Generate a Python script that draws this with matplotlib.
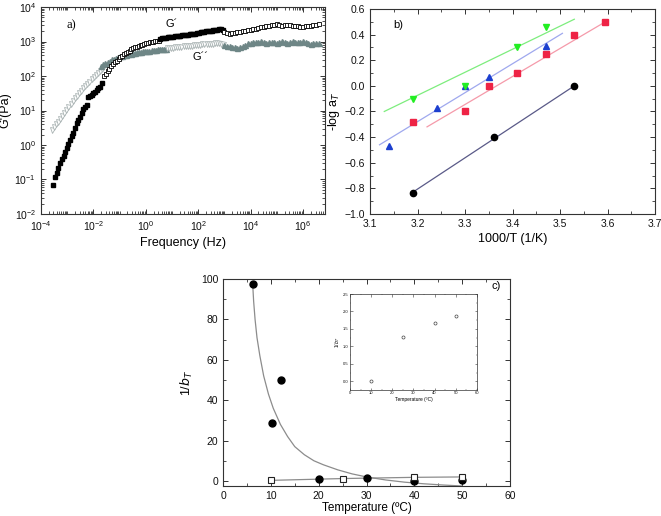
"""Three-panel rheology figure: G'/G'' master curve, shift factors, 1/bT vs temperature."""

import numpy as np
import matplotlib
matplotlib.use("Agg")
import matplotlib.pyplot as plt
from matplotlib.ticker import LogLocator, MultipleLocator, NullFormatter

plt.rcParams["font.family"] = ["Liberation Sans", "DejaVu Sans"]

# ── Panel a: master curve (log10 values) ────────────────────────────────────
GP1_LOGF = [-3.53, -3.47, -3.40, -3.34, -3.27, -3.21, -3.14, -3.08, -3.02, -2.96,
            -2.89, -2.83, -2.76, -2.70, -2.64, -2.58, -2.51, -2.45, -2.38, -2.32,
            -2.25, -2.19, -2.13, -2.06, -2.00, -1.93, -1.87, -1.81, -1.75, -1.68]
GP1_LOGG = [-1.16, -0.92, -0.82, -0.68, -0.53, -0.42, -0.32, -0.20, -0.10, 0.02,
            0.14, 0.25, 0.34, 0.50, 0.65, 0.73, 0.82, 0.92, 1.03, 1.10,
            1.16, 1.38, 1.42, 1.45, 1.50, 1.55, 1.59, 1.64, 1.69, 1.79]

GP2_LOGF = [-1.60, -1.53, -1.46, -1.39, -1.32, -1.25, -1.18, -1.11, -1.04, -0.97,
            -0.90, -0.83, -0.76, -0.69, -0.62, -0.55, -0.48, -0.41, -0.34, -0.27,
            -0.20, -0.13, -0.06, 0.01, 0.08, 0.15, 0.22, 0.29, 0.36, 0.43, 0.50]
GP2_LOGG = [2.00, 2.07, 2.14, 2.21, 2.28, 2.34, 2.40, 2.45, 2.50, 2.55,
            2.59, 2.63, 2.67, 2.71, 2.74, 2.77, 2.80, 2.83, 2.85, 2.87,
            2.89, 2.91, 2.93, 2.95, 2.96, 2.98, 2.99, 3.00, 3.01, 3.02, 3.03]

GP3_LOGF = [0.55, 0.62, 0.69, 0.76, 0.83, 0.90, 0.97, 1.04, 1.11, 1.18,
            1.25, 1.32, 1.39, 1.46, 1.53, 1.60, 1.67, 1.74, 1.81, 1.88,
            1.95, 2.02, 2.09, 2.16, 2.23, 2.30, 2.37, 2.44, 2.51, 2.58,
            2.65, 2.72, 2.79, 2.86, 2.93]
GP3_LOGG = [3.08, 3.09, 3.10, 3.11, 3.12, 3.12, 3.13, 3.14, 3.15, 3.16,
            3.16, 3.17, 3.18, 3.19, 3.20, 3.20, 3.21, 3.22, 3.22, 3.23,
            3.25, 3.26, 3.27, 3.27, 3.28, 3.30, 3.31, 3.31, 3.32, 3.33,
            3.34, 3.34, 3.35, 3.35, 3.33]

HF_LOGF = [3.0, 3.1, 3.2, 3.3, 3.4, 3.5, 3.6, 3.7, 3.8, 3.9,
           4.0, 4.1, 4.2, 4.3, 4.4, 4.5, 4.6, 4.7, 4.8, 4.9,
           5.0, 5.1, 5.2, 5.3, 5.4, 5.5, 5.6, 5.7, 5.8, 5.9,
           6.0, 6.1, 6.2, 6.3, 6.4, 6.5, 6.6]
GP4_LOGG = [3.28, 3.24, 3.23, 3.24, 3.26, 3.27, 3.29, 3.30, 3.31, 3.33,
            3.34, 3.35, 3.37, 3.39, 3.41, 3.42, 3.44, 3.45, 3.47, 3.49,
            3.50, 3.48, 3.46, 3.47, 3.48, 3.47, 3.46, 3.45, 3.44, 3.43,
            3.43, 3.44, 3.45, 3.46, 3.47, 3.49, 3.50]
GPP4_LOGG = [2.90, 2.88, 2.86, 2.84, 2.83, 2.82, 2.84, 2.87, 2.90, 2.95,
             2.97, 2.99, 3.00, 2.98, 3.01, 2.98, 2.97, 2.99, 3.00, 2.98,
             2.97, 3.00, 3.02, 3.00, 2.97, 2.99, 3.01, 2.99, 2.98, 3.00,
             3.01, 2.98, 2.96, 2.94, 2.95, 2.97, 2.96]

GPP1_LOGF = [-3.59, -3.51, -3.43, -3.35, -3.27, -3.19, -3.11, -3.03, -2.95, -2.87,
             -2.79, -2.71, -2.63, -2.55, -2.47, -2.39, -2.31, -2.23, -2.15, -2.07,
             -1.99, -1.91, -1.83, -1.75, -1.68]
GPP1_LOGG = [0.43, 0.51, 0.60, 0.68, 0.76, 0.84, 0.93, 1.01, 1.10, 1.19,
             1.27, 1.35, 1.43, 1.50, 1.58, 1.64, 1.71, 1.77, 1.84, 1.90,
             1.96, 2.02, 2.08, 2.14, 2.19]

GPP2_LOGF = [-1.70, -1.62, -1.54, -1.46, -1.38, -1.30, -1.22, -1.14, -1.06, -0.98,
             -0.90, -0.82, -0.74, -0.66, -0.58, -0.50, -0.42, -0.34, -0.26, -0.18,
             -0.10, -0.02, 0.06, 0.14, 0.22, 0.30, 0.38, 0.46, 0.54, 0.62, 0.70, 0.78]
GPP2_LOGG = [2.30, 2.34, 2.38, 2.42, 2.45, 2.48, 2.50, 2.53, 2.55, 2.57,
             2.59, 2.61, 2.62, 2.64, 2.65, 2.67, 2.68, 2.69, 2.70, 2.71,
             2.72, 2.73, 2.74, 2.74, 2.75, 2.76, 2.76, 2.77, 2.77, 2.78, 2.78, 2.79]

GPP3_LOGF = [0.80, 0.88, 0.96, 1.04, 1.12, 1.20, 1.28, 1.36, 1.44, 1.52,
             1.60, 1.68, 1.76, 1.84, 1.92, 2.00, 2.08, 2.16, 2.24, 2.32,
             2.40, 2.48, 2.56, 2.64, 2.72, 2.80, 2.88, 2.96]
GPP3_LOGG = [2.80, 2.81, 2.82, 2.82, 2.83, 2.84, 2.84, 2.85, 2.86, 2.86,
             2.87, 2.88, 2.88, 2.89, 2.90, 2.90, 2.91, 2.92, 2.92, 2.93,
             2.93, 2.94, 2.94, 2.95, 2.95, 2.95, 2.94, 2.93]

# ── Panel b: shift factors ──────────────────────────────────────────────────
GREEN_X = [3.19, 3.30, 3.41, 3.47]
GREEN_Y = [-0.10, 0.0, 0.30, 0.46]
GREEN_FIT_X = [3.13, 3.53]
GREEN_FIT_Y = [-0.20, 0.52]

BLUE_X = [3.14, 3.24, 3.30, 3.35, 3.47]
BLUE_Y = [-0.47, -0.17, 0.0, 0.07, 0.31]
BLUE_FIT_X = [3.12, 3.505]
BLUE_FIT_Y = [-0.46, 0.41]

RED_X = [3.19, 3.30, 3.35, 3.41, 3.47, 3.53, 3.595]
RED_Y = [-0.28, -0.20, 0.0, 0.10, 0.25, 0.40, 0.50]
RED_FIT_X = [3.22, 3.60]
RED_FIT_Y = [-0.32, 0.51]

BLACK_X = [3.19, 3.36, 3.53]
BLACK_Y = [-0.84, -0.40, 0.0]
BLACK_FIT_X = [3.19, 3.53]
BLACK_FIT_Y = [-0.83, 0.0]

# ── Panel c: 1/bT vs temperature ────────────────────────────────────────────
FILLED_T = [6.2, 10.2, 12.2, 20, 30.2, 40, 50]
FILLED_V = [97.5, 28.6, 50.2, 1.0, 1.6, 0.2, 0.3]
OPEN_T = [10, 25, 40, 50]
OPEN_V = [0.3, 1.2, 1.8, 2.0]
CURVE_T = [6.2, 6.4, 6.7, 7.1, 7.7, 8.5, 9.5, 10.5, 12, 13.5, 15, 17, 19, 21,
           24, 27, 30, 34, 38, 42, 46, 50]
CURVE_V = [97.5, 89, 80, 71, 62, 52, 43, 36, 28, 22, 17, 13, 10, 8,
           5.5, 3.5, 2.0, 0.5, -0.6, -1.4, -2.0, -2.5]
INSET_T = [10, 25, 40, 50]
INSET_V = [0.0, 1.28, 1.66, 1.88]

AX_COLOR = "#333333"
GRAY_FILL = "#6e8686"
GRAY_OPEN = "#a9b3b3"


def style_ax(ax, size=7.5):
    ax.tick_params(which="both", direction="in", top=True, right=True,
                   labelsize=size, colors=AX_COLOR, labelcolor="#111111")
    ax.tick_params(which="major", length=3.5, width=0.7)
    ax.tick_params(which="minor", length=2, width=0.6)
    for s in ax.spines.values():
        s.set_color(AX_COLOR)
        s.set_linewidth(0.8)


def pw(vals):
    return [10 ** v for v in vals]


def plot_a(ax):
    ax.set_xscale("log")
    ax.set_yscale("log")
    ax.plot(pw(GPP1_LOGF), pw(GPP1_LOGG), "v", ms=3.6, mfc="white", mec=GRAY_OPEN, mew=0.6, ls="none")
    ax.plot(pw(GPP2_LOGF), pw(GPP2_LOGG), "^", ms=3.6, color=GRAY_FILL, ls="none")
    ax.plot(pw(GPP3_LOGF), pw(GPP3_LOGG), "v", ms=3.6, mfc="white", mec=GRAY_OPEN, mew=0.6, ls="none")
    ax.plot(pw(HF_LOGF), pw(GPP4_LOGG), "^", ms=3.6, color=GRAY_FILL, ls="none")

    ax.plot(pw(GP1_LOGF), pw(GP1_LOGG), "s", ms=3.3, color="black", ls="none")
    ax.plot(pw(GP2_LOGF), pw(GP2_LOGG), "s", ms=3.3, mfc="white", mec="black", mew=0.6, ls="none")
    ax.plot(pw(GP3_LOGF), pw(GP3_LOGG), "s", ms=3.3, color="black", ls="none")
    ax.plot(pw(HF_LOGF), pw(GP4_LOGG), "s", ms=3.3, mfc="white", mec="black", mew=0.6, ls="none")

    ax.text(10, 3200, "G´", fontsize=8, ha="center", va="center")
    ax.text(120, 355, "G´´", fontsize=8, ha="center", va="center")
    ax.text(0.09, 0.91, "a)", transform=ax.transAxes, fontsize=9,
            family="Liberation Serif", va="center")

    ax.set_xlim(1e-4, 10 ** 6.84)
    ax.set_ylim(1e-2, 1e4)
    ax.set_xticks([1e-4, 1e-2, 1e0, 1e2, 1e4, 1e6])
    ax.set_yticks([1e-2, 1e-1, 1e0, 1e1, 1e2, 1e3, 1e4])
    ax.xaxis.set_minor_locator(LogLocator(base=10, subs=np.arange(1, 10), numticks=50))
    ax.yaxis.set_minor_locator(LogLocator(base=10, subs=np.arange(2, 10), numticks=50))
    ax.xaxis.set_minor_formatter(NullFormatter())
    ax.yaxis.set_minor_formatter(NullFormatter())
    ax.set_xlabel("Frequency (Hz)", fontsize=9, labelpad=3)
    ax.set_ylabel("G'(Pa)", fontsize=9, labelpad=2)
    style_ax(ax)


def plot_b(ax):
    ax.plot(GREEN_FIT_X, GREEN_FIT_Y, color="#7ded7d", lw=0.9)
    ax.plot(BLUE_FIT_X, BLUE_FIT_Y, color="#9fa8ee", lw=0.9)
    ax.plot(RED_FIT_X, RED_FIT_Y, color="#f59aaa", lw=0.9)
    ax.plot(BLACK_FIT_X, BLACK_FIT_Y, color="#5a5a88", lw=0.9)

    ax.plot(BLACK_X, BLACK_Y, "o", ms=4.5, color="black", ls="none")
    ax.plot(RED_X, RED_Y, "s", ms=4.5, color="#ee2345", ls="none")
    ax.plot(BLUE_X, BLUE_Y, "^", ms=5, color="#1c3fcf", ls="none")
    ax.plot(GREEN_X, GREEN_Y, "v", ms=5, color="#22ee22", ls="none")

    ax.text(0.08, 0.92, "b)", transform=ax.transAxes, fontsize=8, va="center")
    ax.set_xlim(3.1, 3.7)
    ax.set_ylim(-1.0, 0.6)
    ax.xaxis.set_major_locator(MultipleLocator(0.1))
    ax.xaxis.set_minor_locator(MultipleLocator(0.05))
    ax.yaxis.set_major_locator(MultipleLocator(0.2))
    ax.yaxis.set_minor_locator(MultipleLocator(0.1))
    ax.set_xlabel("1000/T (1/K)", fontsize=9, labelpad=3)
    ax.set_ylabel("-log a$_T$", fontsize=9, labelpad=2)
    style_ax(ax)


def plot_c(ax):
    ax.plot(CURVE_T, CURVE_V, color="#8c8c8c", lw=0.9)
    ax.plot(OPEN_T, OPEN_V, color="#8c8c8c", lw=0.9)
    ax.plot(FILLED_T, FILLED_V, "o", ms=5, color="black", ls="none")
    ax.plot(OPEN_T, OPEN_V, "s", ms=5, mfc="white", mec="#222222", mew=0.8, ls="none")

    ax.text(0.935, 0.965, "c)", transform=ax.transAxes, fontsize=8, va="center")
    ax.set_xlim(0, 60)
    ax.set_ylim(-2.5, 100)
    ax.xaxis.set_major_locator(MultipleLocator(10))
    ax.xaxis.set_minor_locator(MultipleLocator(5))
    ax.yaxis.set_major_locator(MultipleLocator(20))
    ax.yaxis.set_minor_locator(MultipleLocator(10))
    ax.set_xlabel("Temperature (ºC)", fontsize=8.5, labelpad=1)
    ax.set_ylabel("1/$b_T$", fontsize=9, labelpad=4)
    style_ax(ax)


def plot_inset(ax):
    ax.plot(INSET_T, INSET_V, "o", ms=2.2, mfc="white", mec="#444444", mew=0.5, ls="none")
    ax.set_xlim(0, 60)
    ax.set_ylim(-0.25, 2.5)
    ax.xaxis.set_major_locator(MultipleLocator(10))
    ax.xaxis.set_minor_locator(MultipleLocator(5))
    ax.yaxis.set_major_locator(MultipleLocator(0.5))
    ax.yaxis.set_minor_locator(MultipleLocator(0.25))
    ax.set_xlabel("Temperature (ºC)", fontsize=3.5, labelpad=1)
    ax.set_ylabel("1/$b_T$", fontsize=3.5, labelpad=1)
    style_ax(ax, size=3)
    ax.tick_params(which="major", length=1.8, width=0.4, pad=1)
    ax.tick_params(which="minor", length=1, width=0.3)
    for s in ax.spines.values():
        s.set_linewidth(0.5)


def main():
    fig = plt.figure(figsize=(6.61, 5.16), dpi=100)
    ax_a = fig.add_axes([0.062, 0.5853, 0.4297, 0.401])
    ax_b = fig.add_axes([0.5598, 0.5853, 0.4312, 0.3973])
    ax_c = fig.add_axes([0.3374, 0.0581, 0.4342, 0.4012])
    ax_in = fig.add_axes([0.5295, 0.2442, 0.1921, 0.186])

    plot_a(ax_a)
    plot_b(ax_b)
    plot_c(ax_c)
    plot_inset(ax_in)

    fig.savefig("out.png", dpi=100)
    plt.close(fig)


if __name__ == "__main__":
    main()
